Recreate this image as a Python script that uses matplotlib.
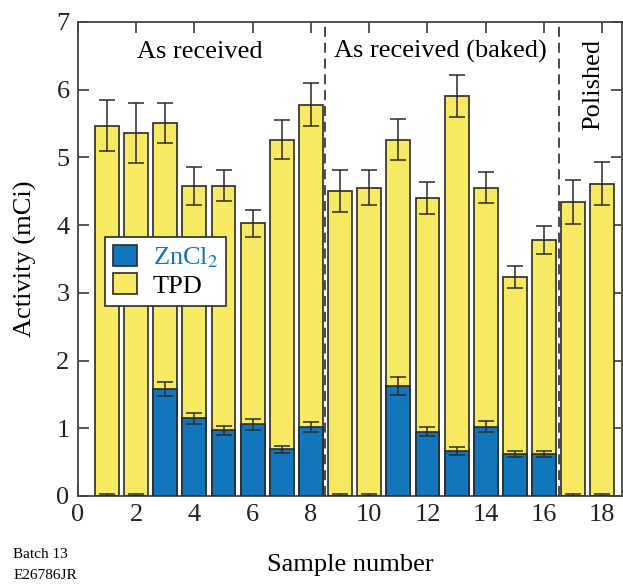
import numpy as np
import matplotlib
matplotlib.use("Agg")
import matplotlib.pyplot as plt
from matplotlib.patches import Patch

# sample numbers and measured activities (mCi)
samples = np.arange(1, 19)
tpd = [5.47, 5.36, 5.51, 4.58, 4.58, 4.03, 5.26, 5.78, 4.50,
       4.55, 5.26, 4.40, 5.91, 4.55, 3.23, 3.78, 4.34, 4.61]
tpd_err = [0.38, 0.44, 0.30, 0.28, 0.23, 0.20, 0.29, 0.32, 0.31,
           0.26, 0.30, 0.23, 0.31, 0.23, 0.16, 0.20, 0.32, 0.32]
zncl2 = [0.0, 0.0, 1.58, 1.15, 0.97, 1.06, 0.69, 1.02, 0.0,
         0.0, 1.62, 0.95, 0.66, 1.02, 0.62, 0.62, 0.0, 0.0]
zncl2_err = [0.03, 0.03, 0.11, 0.08, 0.07, 0.08, 0.05, 0.07, 0.03,
             0.03, 0.13, 0.07, 0.06, 0.08, 0.05, 0.04, 0.03, 0.03]

yellow = "#f8e963"
blue = "#1176bb"
edge = "#2a2a2a"

plt.rcParams["font.family"] = ["Liberation Serif", "DejaVu Serif"]
plt.rcParams["mathtext.fontset"] = "stix"

fig = plt.figure(figsize=(6.23, 5.86), dpi=100)
ax = fig.add_axes([0.125, 0.1536, 0.873, 0.809])

width = 0.82
ax.bar(samples, tpd, width, color=yellow, edgecolor=edge, linewidth=1.2, zorder=2)
ax.bar(samples, zncl2, width, color=blue, edgecolor=edge, linewidth=1.2, zorder=3)
ax.errorbar(samples, tpd, yerr=tpd_err, fmt="none", ecolor=edge,
            elinewidth=1.1, capsize=5.5, capthick=1.1, zorder=4)
ax.errorbar(samples, zncl2, yerr=zncl2_err, fmt="none", ecolor=edge,
            elinewidth=1.1, capsize=5.5, capthick=1.1, zorder=4)

for xv in (8.5, 16.5):
    ax.axvline(xv, color=edge, linestyle=(0, (6, 3.5)), linewidth=1.2, zorder=5)

ax.text(4.2, 6.56, "As received", ha="center", va="center", fontsize=19)
ax.text(12.45, 6.56, "As received (baked)", ha="center", va="center", fontsize=19)
ax.text(17.7, 6.07, "Polished", ha="center", va="center", rotation=90, fontsize=19)

ax.set_xlim(0, 18.67)
ax.set_ylim(0, 7)
ax.set_xticks(range(0, 19, 2))
ax.set_yticks(range(0, 8))
ax.tick_params(direction="in", length=8, width=1.1, labelsize=19,
               top=True, right=True, colors=edge, labelcolor="#222222", pad=6)
for s in ax.spines.values():
    s.set_linewidth(1.3)
    s.set_color("#444444")

ax.set_xlabel("Sample number", fontsize=19, labelpad=20)
ax.set_ylabel("Activity (mCi)", fontsize=19, labelpad=14)

handles = [Patch(facecolor=blue, edgecolor=edge, linewidth=1.2),
           Patch(facecolor=yellow, edgecolor=edge, linewidth=1.2)]
leg = ax.legend(handles, [r"ZnCl$_2$", "TPD"], loc="upper left",
                bbox_to_anchor=(0.05, 0.547), fontsize=19, frameon=True,
                fancybox=False, framealpha=1, edgecolor=edge,
                handlelength=0.9, handleheight=0.85, handletextpad=0.6,
                borderpad=0.3, labelspacing=0.12, borderaxespad=0)
leg.get_frame().set_linewidth(1.2)
leg.get_texts()[0].set_color(blue)
leg.set_zorder(6)

fig.text(0.021, 0.053, "Batch 13", fontsize=11, va="center", ha="left")
fig.text(0.021, 0.018, "E26786JR", fontsize=11, va="center", ha="left")

fig.savefig("out.png", dpi=100)
